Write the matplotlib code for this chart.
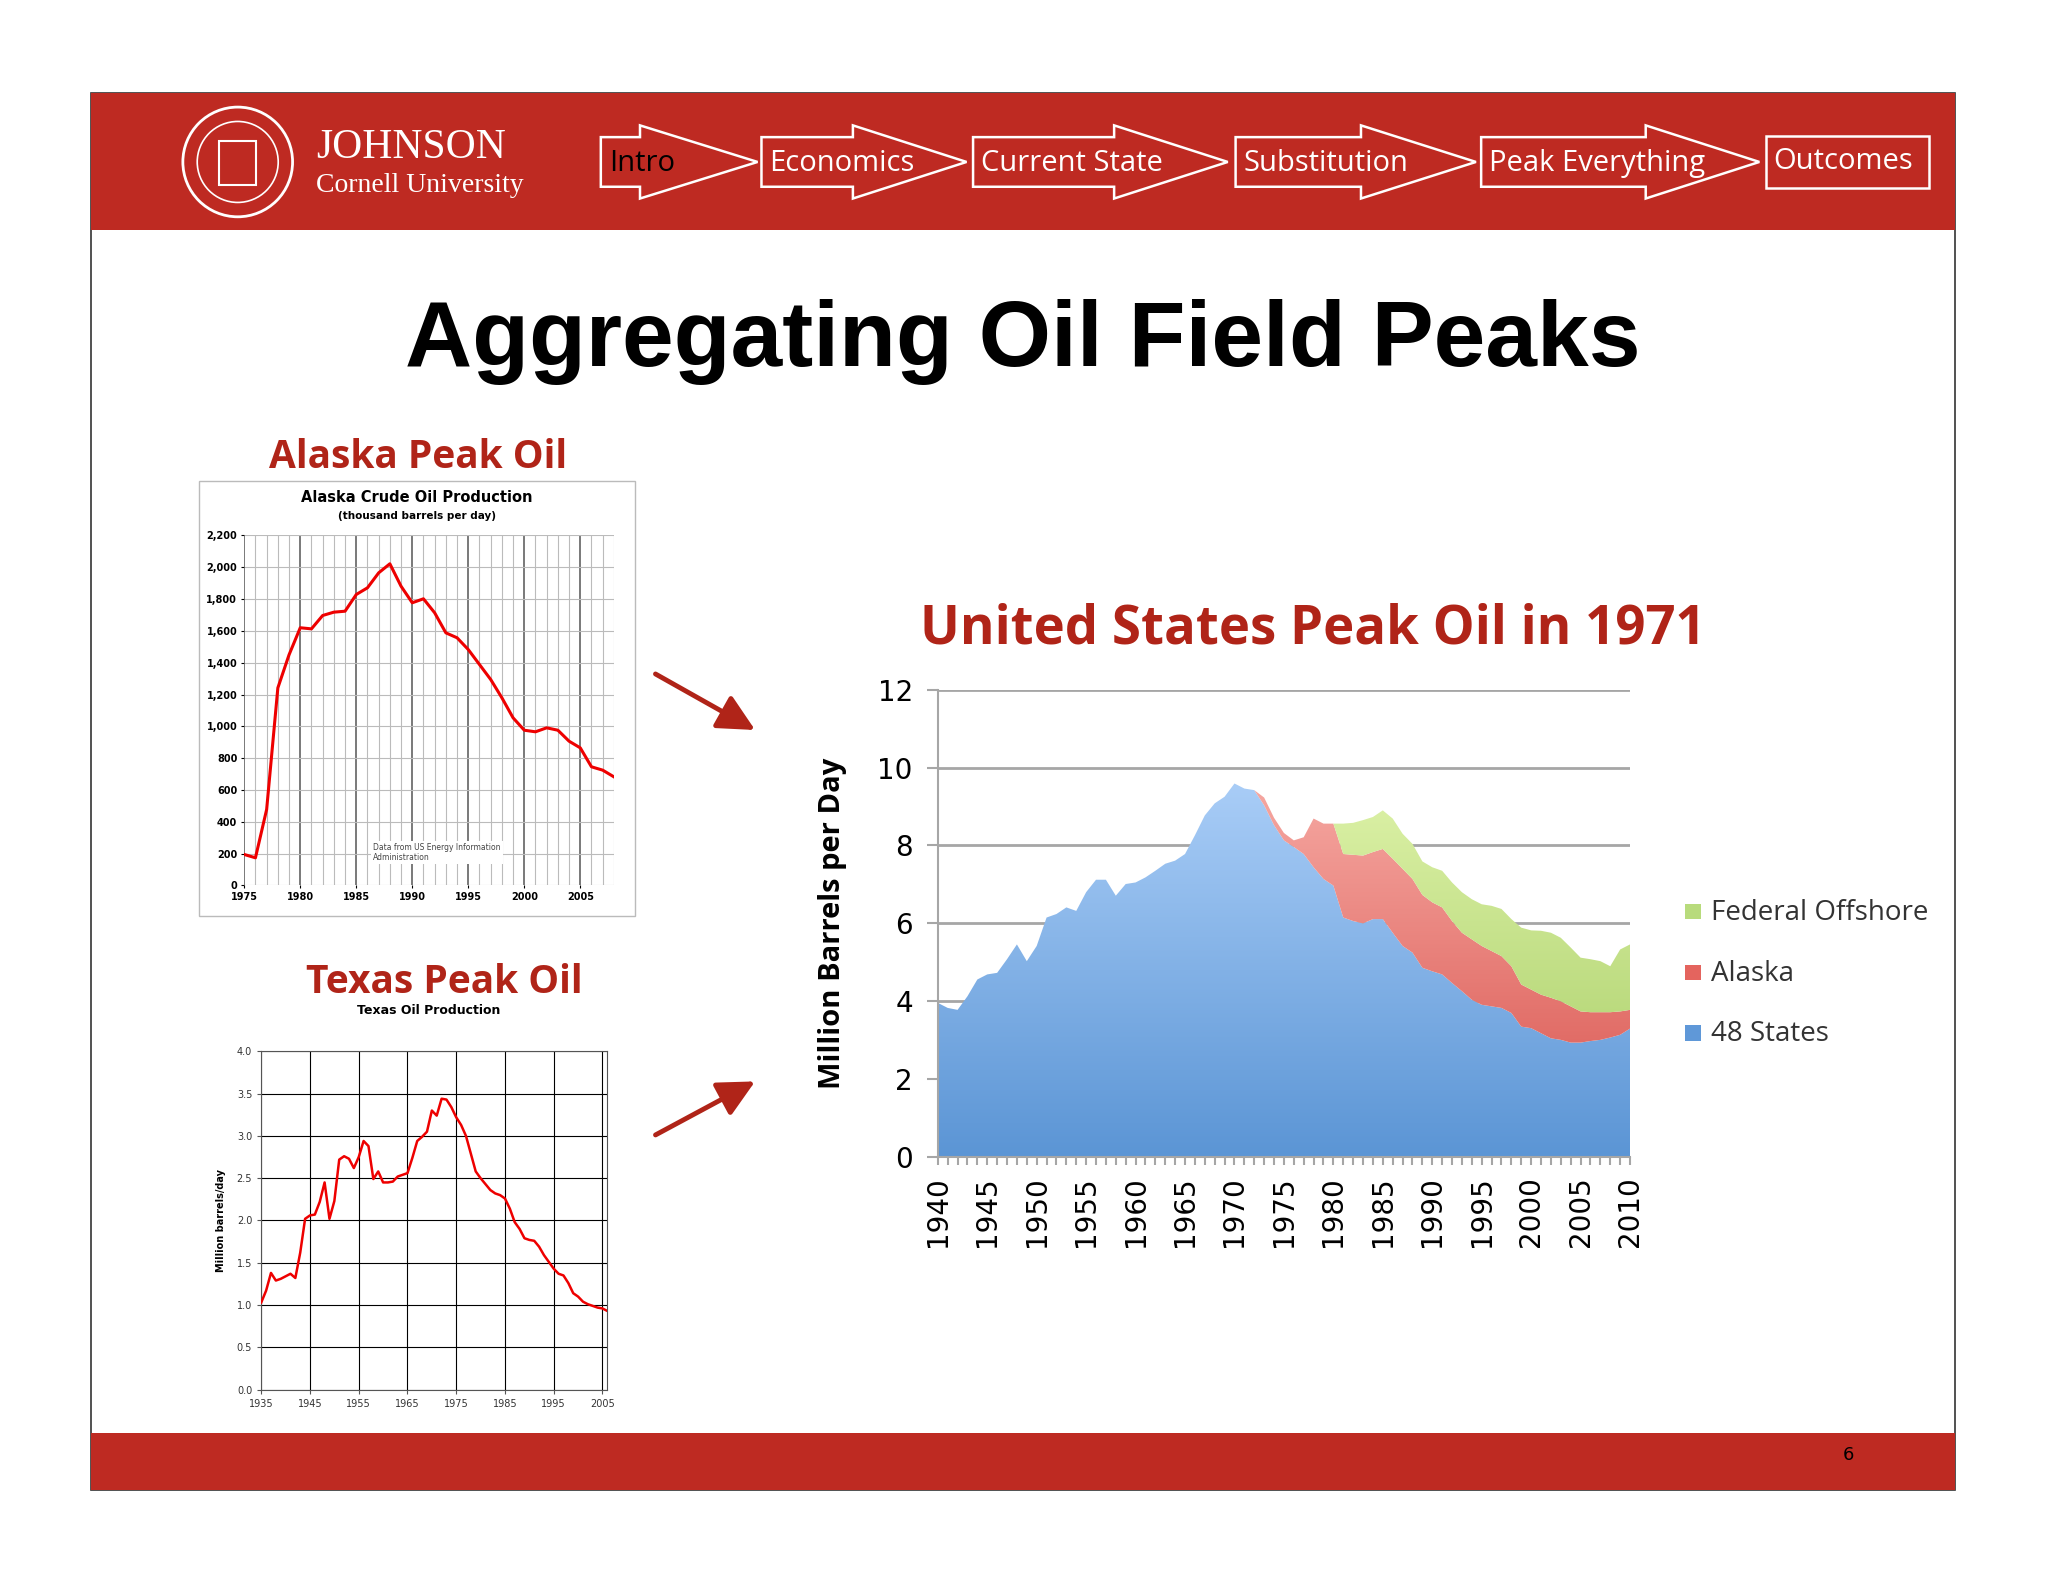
import numpy as np
import matplotlib.pyplot as plt
from matplotlib.patches import Rectangle, Polygon, Circle, PathPatch, FancyArrowPatch
from matplotlib.colors import LinearSegmentedColormap
from matplotlib.ticker import MultipleLocator

# ---- dados ----
anos_us = np.arange(1940, 2011)
estados48 = [3.96, 3.83, 3.78, 4.13, 4.56, 4.69, 4.73, 5.08, 5.46, 5.03,
             5.42, 6.15, 6.24, 6.41, 6.32, 6.80, 7.12, 7.12, 6.71, 7.01,
             7.05, 7.18, 7.35, 7.53, 7.61, 7.78, 8.26, 8.77, 9.08, 9.25,
             9.59, 9.46, 9.42, 9.03, 8.52, 8.13, 7.96, 7.78, 7.44, 7.14,
             6.97, 6.15, 6.06, 6.00, 6.11, 6.11, 5.76, 5.42, 5.25, 4.86,
             4.77, 4.69, 4.47, 4.26, 4.04, 3.91, 3.87, 3.83, 3.70, 3.35,
             3.31, 3.18, 3.05, 3.01, 2.94, 2.94, 2.98, 3.01, 3.07, 3.14, 3.30]
alaska_us = [0]*33 + [0.20, 0.19, 0.19, 0.17, 0.43, 1.25, 1.42, 1.59,
             1.63, 1.70, 1.74, 1.72, 1.80, 1.90, 1.98, 1.89, 1.87, 1.77,
             1.72, 1.59, 1.50, 1.55, 1.51, 1.42, 1.33, 1.20, 1.08, 0.99,
             0.99, 1.04, 0.99, 0.93, 0.80, 0.74, 0.71, 0.65, 0.60, 0.48]
offshore = [0]*41 + [0.78, 0.82, 0.91, 0.90, 0.99, 1.03, 0.90, 0.90, 0.86,
            0.90, 0.94, 0.99, 1.04, 1.03, 1.07, 1.16, 1.21, 1.21, 1.46,
            1.52, 1.64, 1.67, 1.63, 1.51, 1.38, 1.36, 1.31, 1.18, 1.59, 1.68]

anos_ak = np.arange(1975, 2009)
producao_ak = [195, 174, 478, 1242, 1450, 1620, 1613, 1697, 1718, 1724,
               1829, 1871, 1965, 2022, 1881, 1777, 1802, 1714, 1588, 1557,
               1483, 1389, 1295, 1180, 1054, 976, 966, 991, 976, 907,
               865, 746, 725, 683]

anos_tx = np.arange(1935, 2007)
producao_tx = [1.03, 1.17, 1.38, 1.29, 1.31, 1.34, 1.37, 1.32, 1.62, 2.02,
               2.06, 2.07, 2.22, 2.45, 2.02, 2.23, 2.72, 2.76, 2.73, 2.62,
               2.75, 2.94, 2.88, 2.49, 2.58, 2.45, 2.45, 2.46, 2.52, 2.54,
               2.56, 2.74, 2.94, 2.99, 3.05, 3.30, 3.24, 3.44, 3.43, 3.34,
               3.22, 3.13, 3.00, 2.79, 2.58, 2.50, 2.43, 2.36, 2.32, 2.30,
               2.26, 2.14, 1.98, 1.90, 1.79, 1.77, 1.76, 1.69, 1.59, 1.51,
               1.43, 1.37, 1.35, 1.26, 1.14, 1.10, 1.04, 1.01, 0.99, 0.97,
               0.96, 0.93]

menu = ["Intro", "Economics", "Current State", "Substitution", "Peak Everything"]
legenda = ["Federal Offshore", "Alaska", "48 States"]

VERMELHO = "#BE2A22"
W, H = 1568, 1211.3  # coordenadas da tela (escala 2048/1568)

fig = plt.figure(figsize=(20.48, 15.82), dpi=100)
bg = fig.add_axes([0, 0, 1, 1])
bg.set_xlim(0, W)
bg.set_ylim(H, 0)
bg.axis("off")


def eixo(x0, y0, x1, y1):
    return fig.add_axes([x0 / W, 1 - y1 / H, (x1 - x0) / W, (y1 - y0) / H])


# slide
bg.add_patch(Rectangle((70, 71), 1427, 1070, facecolor="white", edgecolor="#333333", lw=1.2))
bg.add_patch(Rectangle((70, 71), 1427, 105, facecolor=VERMELHO, edgecolor="none"))
bg.add_patch(Rectangle((70, 1097), 1427, 44, facecolor=VERMELHO, edgecolor="none"))
bg.text(1415, 1114, "6", fontsize=13, ha="center", va="center", color="black")

# logo
bg.add_patch(Circle((182, 124), 42, facecolor="none", edgecolor="white", lw=2))
bg.add_patch(Circle((182, 124), 31, facecolor="none", edgecolor="white", lw=1.2))
bg.add_patch(Rectangle((168, 108), 28, 34, facecolor="none", edgecolor="white", lw=1.5))
bg.text(242, 113, "JOHNSON", fontsize=30, family="Liberation Serif", color="white", va="center")
bg.text(242, 142, "Cornell University", fontsize=20, family="Liberation Serif", color="white", va="center")

# menu (setas em bloco)
setas = [(460, 490, 580), (583, 653, 740), (745, 853, 940), (946, 1042, 1130), (1134, 1260, 1347)]
for nome, (x0, hx, tip) in zip(menu, setas):
    bg.add_patch(Polygon([(x0, 105), (hx, 105), (hx, 96), (tip, 124), (hx, 152),
                          (hx, 143), (x0, 143)], closed=True, facecolor=VERMELHO,
                         edgecolor="white", lw=1.8))
    bg.text(x0 + 6, 125, nome, fontsize=21, family="Open Sans",
            color="black" if nome == "Intro" else "white", va="center")
bg.add_patch(Rectangle((1352, 104), 125, 40, facecolor=VERMELHO, edgecolor="white", lw=1.8))
bg.text(1358, 124, "Outcomes", fontsize=21, family="Open Sans", color="white", va="center")

# titulos
bg.text(783, 262, "Aggregating Oil Field Peaks", fontsize=67, fontweight="bold",
        family="Liberation Sans", ha="center", va="center")
bg.text(320, 350, "Alaska Peak Oil", fontsize=28, fontweight="bold", family="Open Sans",
        color="#B02418", ha="center", va="center")
bg.text(340, 752, "Texas Peak Oil", fontsize=28, fontweight="bold", family="Open Sans",
        color="#B02418", ha="center", va="center")
bg.text(328, 774, "Texas Oil Production", fontsize=9, fontweight="bold", ha="center", va="center")
bg.text(1005, 482, "United States Peak Oil in 1971", fontsize=38, fontweight="bold",
        family="Open Sans", color="#B02418", ha="center", va="center")

# setas
for a, b in [((500, 515), (580, 560)), ((500, 870), (580, 827))]:
    bg.add_patch(FancyArrowPatch(a, b, arrowstyle="-|>,head_length=14,head_width=7",
                                 color="#B02418", lw=3.5, mutation_scale=1.6))

# ---- grafico Alaska ----
bg.add_patch(Rectangle((152, 368), 334, 333, facecolor="white", edgecolor="#BBBBBB", lw=1))
bg.text(319, 381, "Alaska Crude Oil Production", fontsize=10.5, fontweight="bold", ha="center", va="center")
bg.text(319, 395, "(thousand barrels per day)", fontsize=7.5, fontweight="bold", ha="center", va="center")
ax1 = eixo(187, 410, 470, 678)
ax1.set_xlim(1975, 2008)
ax1.set_ylim(0, 2200)
for ano in range(1975, 2009):
    ax1.axvline(ano, color="#555555" if ano % 5 == 0 else "#BBBBBB", lw=1.1 if ano % 5 == 0 else 0.8, zorder=0)
for v in range(0, 2201, 200):
    ax1.axhline(v, color="#BBBBBB", lw=0.8, zorder=0)
ax1.plot(anos_ak, producao_ak, color="#EE0000", lw=2.2, zorder=3)
ax1.set_xticks(range(1975, 2006, 5))
ax1.set_yticks(range(0, 2201, 200))
ax1.set_yticklabels([f"{v:,}" for v in range(0, 2201, 200)])
ax1.tick_params(labelsize=7, length=2, pad=3)
for lb in ax1.get_xticklabels() + ax1.get_yticklabels():
    lb.set_fontweight("bold")
for s in ax1.spines.values():
    s.set_visible(False)
ax1.text(1986.5, 160, "Data from US Energy Information\nAdministration", fontsize=5.5,
         color="#444444", zorder=4, bbox=dict(facecolor="white", edgecolor="none", pad=1.5))

# ---- grafico Texas ----
ax2 = eixo(200, 805, 465, 1064)
ax2.set_xlim(1935, 2006)
ax2.set_ylim(0, 4.0)
ax2.set_xticks(range(1935, 2006, 10))
ax2.set_yticks(np.arange(0, 4.01, 0.5))
ax2.set_yticklabels([f"{v:.1f}" for v in np.arange(0, 4.01, 0.5)])
ax2.grid(True, color="black", lw=0.8)
ax2.plot(anos_tx, producao_tx, color="#EE0000", lw=1.8, zorder=3)
ax2.tick_params(labelsize=7, length=3, color="#555555", labelcolor="#333333")
ax2.set_ylabel("Million barrels/day", fontsize=7, fontweight="bold", labelpad=8)
for s in ax2.spines.values():
    s.set_color("#555555")

# ---- grafico EUA ----
ax3 = eixo(718, 528, 1248, 886)
ax3.set_xlim(1940, 2010)
ax3.set_ylim(0, 12)


def preenche(ax, x, y1, y2, topo, base, z):
    poly = ax.fill_between(x, y1, y2, color="none", lw=0)
    patch = PathPatch(poly.get_paths()[0], transform=ax.transData, facecolor="none", edgecolor="none")
    ax.add_patch(patch)
    cmap = LinearSegmentedColormap.from_list("g", [base, topo])
    im = ax.imshow(np.linspace(0, 1, 256).reshape(-1, 1), cmap=cmap, aspect="auto",
                   extent=[x[0], x[-1], 0, max(np.max(y2), 0.1)], origin="lower", zorder=z)
    im.set_clip_path(patch)


b = np.array(estados48)
a = b + np.array(alaska_us)
f = a + np.array(offshore)
preenche(ax3, anos_us, 0, b, "#A9CDF7", "#5B95D5", 2)
preenche(ax3, anos_us, b, a, "#F6A8A2", "#D8524C", 3)
preenche(ax3, anos_us, a, f, "#DDF2A8", "#A6CC64", 4)
ax3.set_xlim(1940, 2010)
ax3.set_ylim(0, 12)
ax3.set_yticks(range(0, 13, 2))
for v in range(2, 13, 2):
    ax3.axhline(v, color="#A6A6A6", lw=2, zorder=1)
ax3.set_xticks(range(1940, 2011, 5))
ax3.xaxis.set_minor_locator(MultipleLocator(1))
ax3.tick_params(axis="x", which="both", length=6, color="#A6A6A6", width=1.5, labelsize=20,
                labelrotation=90, pad=8)
ax3.tick_params(axis="y", length=8, color="#A6A6A6", width=1.5, labelsize=20, pad=10)
ax3.set_ylabel("Million Barrels per Day", fontsize=21, fontweight="bold", family="Open Sans", labelpad=22)
for s in ["top", "right"]:
    ax3.spines[s].set_visible(False)
for s in ["left", "bottom"]:
    ax3.spines[s].set_color("#A6A6A6")
    ax3.spines[s].set_linewidth(1.5)

cores_leg = ["#B8DB7C", "#E4645E", "#5F98D8"]
for i, (nome, c) in enumerate(zip(legenda, cores_leg)):
    y = 699 + i * 46.5
    bg.add_patch(Rectangle((1290, y - 7), 12, 12, facecolor=c, edgecolor="none"))
    bg.text(1310, y, nome, fontsize=20, family="Open Sans", color="#333333", va="center")

fig.savefig("out.png", dpi=100)
